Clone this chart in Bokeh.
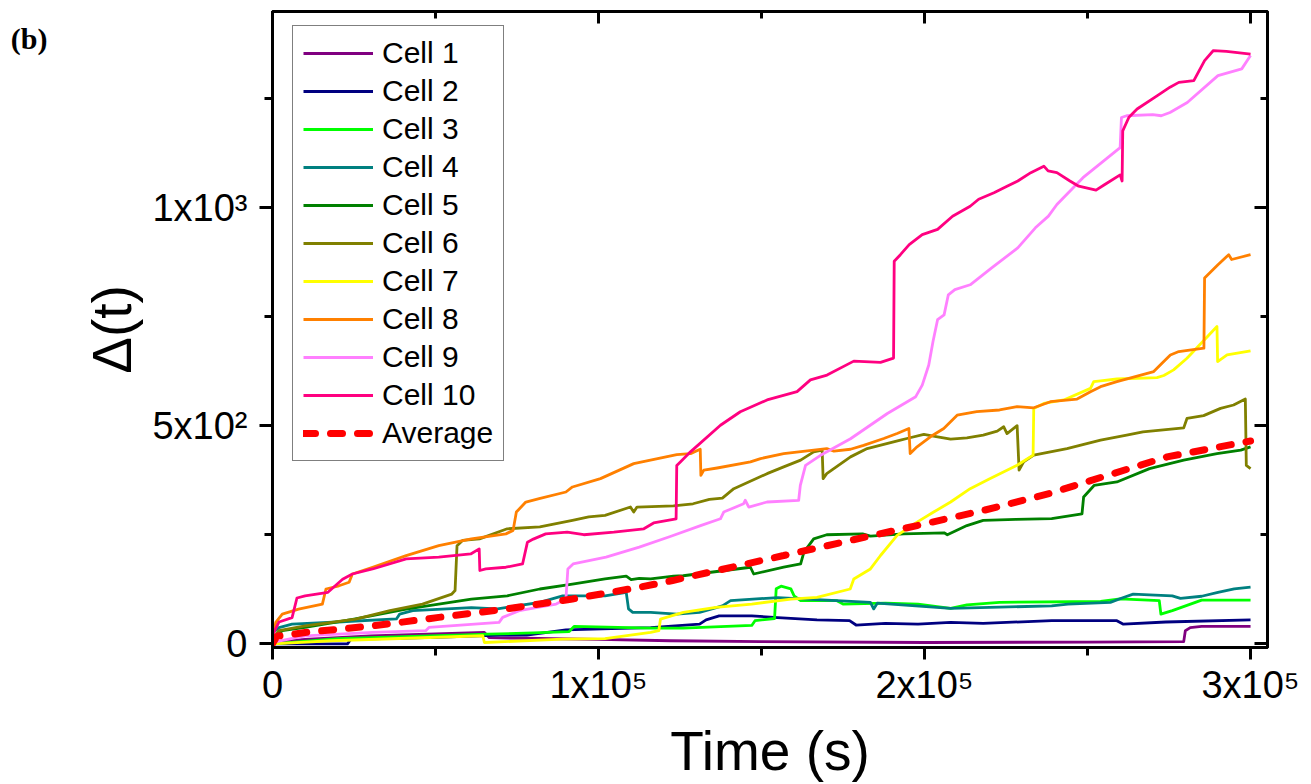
from bokeh.plotting import figure
from bokeh.models import (LinearAxis, SingleIntervalTicker, FixedTicker, Legend,
                          LegendItem, Range1d)
from bokeh.embed import file_html
from bokeh.resources import INLINE

# ---------------- data (time in seconds, Delta(t)) ----------------
cell1_t = [0, 10000, 30000, 65000, 66500, 100000, 122000, 150000, 200000, 250000,
           279500, 280000, 281500, 285000, 300000]
cell1_y = [3, 10, 18, 26, 14, 10, 7, 5, 3, 4, 5, 30, 37, 40, 40]

cell2_t = [0, 8000, 23000, 24000, 50000, 70000, 78000, 90000, 104000, 116000, 131000,
           133000, 137000, 147000, 155000, 167000, 177000, 179000, 188000, 198000,
           208000, 218000, 239000, 259000, 261000, 274000, 300000]
cell2_y = [0, 0, 0, 10, 15, 20, 20, 32, 35, 37, 45, 55, 64, 64, 60, 55, 53, 43, 47,
           45, 49, 47, 53, 53, 45, 50, 55]

cell3_t = [0, 20000, 66000, 80000, 91000, 92500, 116000, 126000, 147000, 148000,
           154000, 154500, 156000, 159000, 160000, 162000, 173000, 175000, 188000,
           198000, 208000, 213000, 223000, 254000, 260000, 272000, 272500, 276000,
           285000, 300000]
cell3_y = [0, 12, 22, 25, 28, 40, 36, 36, 42, 53, 58, 126, 132, 126, 110, 99, 99, 91,
           93, 91, 81, 89, 95, 97, 103, 99, 68, 76, 100, 100]

cell4_t = [0, 2000, 6000, 20000, 38000, 39000, 43000, 61000, 69000, 82000, 89000,
           102000, 108500, 109200, 110500, 116000, 124000, 131000, 138000, 140500,
           155000, 173000, 183400, 184400, 185500, 208000, 223000, 239000, 244000,
           257000, 261000, 264000, 269000, 276000, 278500, 285000, 290000, 295000,
           300000]
cell4_y = [25, 37, 45, 50, 57, 68, 76, 83, 80, 95, 110, 110, 118, 80, 72, 72, 68, 72,
           87, 99, 106, 99, 95, 80, 93, 81, 84, 87, 91, 95, 106, 114, 112, 110, 104,
           109, 118, 126, 130]

cell5_t = [0, 3000, 10000, 25000, 41000, 51000, 61000, 72000, 82000, 92000, 102000,
           108500, 110000, 112500, 116000, 123000, 126000, 146600, 147600, 156800,
           162000, 163000, 166000, 170000, 181000, 183400, 193600, 206000, 207000,
           213000, 218000, 228000, 239000, 248300, 248800, 252000, 259000, 269000,
           279500, 289700, 297000, 300000]
cell5_y = [10, 30, 37.5, 56.6, 79.6, 91, 102.6, 110, 125.6, 137, 148.6, 155, 147, 150,
           149, 155, 156, 175.5, 160, 175.5, 183, 210, 240.6, 250, 252, 246.8, 252,
           254.4, 250, 271, 283, 285, 287, 298, 336.5, 363, 371, 401.6, 421, 436, 444,
           451.5]

cell6_t = [0, 2000, 10000, 25500, 36000, 46000, 55000, 56000, 56600, 58300, 63500,
           72000, 82000, 92000, 97000, 102000, 109800, 110800, 111800, 123000, 129000,
           134000, 138000, 141500, 151700, 156800, 162000, 166000, 168600, 168900,
           170000, 177300, 182400, 192600, 194600, 199800, 204000, 208000, 213000,
           218000, 222300, 224300, 225300, 228400, 229000, 230400, 233500, 243700,
           254000, 262000, 267000, 279500, 280500, 285600, 290800, 294800, 298400,
           298700, 300000]
cell6_y = [10, 30, 41, 56.6, 76, 91, 114, 122, 225, 237, 240.6, 263.6, 268, 283, 291,
           294.4, 313.5, 302, 313.5, 316, 321, 331, 334, 355.6, 390, 405.5, 421, 440,
           444, 378.6, 390, 428.5, 447.6, 467, 470.6, 480, 474.5, 469, 472, 478.4,
           487.6, 497.5, 482, 500, 398, 417, 432.4, 447.6, 467, 478.4, 486, 495,
           516.6, 523, 539.6, 547.4, 561, 409, 401.6]

cell7_t = [0, 18000, 64500, 65000, 89000, 102000, 116000, 118500, 119000, 126000,
           136000, 147000, 159000, 167000, 177200, 178300, 183400, 186500, 191600,
           197700, 202800, 208000, 214000, 220000, 228400, 233300, 233500, 236600,
           242700, 250900, 251900, 254000, 259000, 271300, 273400, 276400, 280500,
           289700, 289900, 292800, 300000]
cell7_y = [0, 7, 18.4, 3, 10.6, 12, 26, 30, 56.6, 72, 83.5, 91, 102.6, 106.5, 125.6,
           148.6, 171.6, 202.4, 248.4, 279, 302, 325, 355.6, 378.6, 409.4, 432.4,
           539.6, 551, 559, 585.6, 601, 602.6, 607, 610, 615, 628, 654.6, 727.5, 647,
           662.4, 671.6]

cell8_t = [0, 1000, 3000, 8000, 15300, 16400, 20400, 23500, 24500, 30700, 41000,
           51000, 61000, 71600, 73800, 74800, 77700, 81800, 90000, 92000, 100600,
           110800, 124000, 128200, 131200, 131400, 132300, 136400, 146600, 149700,
           156800, 170000, 172200, 177300, 181300, 187500, 191600, 195200, 195600,
           197700, 201800, 205900, 210000, 216000, 223000, 228400, 233500, 238600,
           246800, 250900, 254000, 259000, 270300, 272300, 275400, 278000, 285700,
           285900, 290000, 293300, 294200, 300000]
cell8_y = [10.6, 49, 68, 79.6, 91, 125.6, 133, 141, 160, 175.5, 202, 225, 240.6, 252,
           260, 302, 325, 332.6, 348, 359.5, 378.6, 413, 433.8, 436, 446, 386, 398,
           403, 417, 424.6, 436, 447.6, 441.6, 446, 455, 470.6, 482, 493.6, 436,
           451.5, 474.5, 493.6, 524, 532, 536, 543.5, 541, 555, 561, 578, 589.5, 601,
           624, 639, 662, 670, 677.6, 838.6, 869, 892, 881, 892]

cell9_t = [0, 10000, 30700, 47000, 48000, 69500, 70600, 75700, 87000, 90000, 90600,
           92200, 102300, 112500, 122000, 131300, 137400, 138400, 144500, 145000,
           146100, 151700, 161400, 161900, 163500, 168100, 177300, 188600, 197300,
           199300, 201300, 202600, 204000, 206000, 207300, 209300, 214000, 220600,
           228600, 234000, 238000, 240600, 248600, 260000, 260400, 262000, 270000,
           272600, 275300, 280600, 290000, 297300, 300000]
cell9_y = [3, 18, 26, 30, 37.5, 49, 60.5, 76, 91, 102.6, 171.6, 183, 198.5, 221.5,
           246, 271, 286.6, 302, 321, 329, 313.5, 325, 329, 363, 409, 432, 470, 528,
           566.5, 593, 639, 693, 743, 754, 800, 812, 823, 861.6, 907.6, 953.6, 980.5,
           1007, 1068.6, 1137.6, 1206.6, 1210.5, 1213, 1210.5, 1218, 1241, 1302.5,
           1318, 1348.5]

cell10_t = [0, 2000, 6000, 7500, 10000, 17000, 21500, 24500, 30700, 41000, 51000,
            60800, 63400, 63600, 65400, 71600, 76700, 78200, 80000, 83800, 90400,
            95500, 104700, 113900, 116900, 123800, 124000, 125100, 128200, 137400,
            143500, 151700, 160900, 165000, 170100, 178300, 186500, 190500, 190700,
            192600, 195300, 199300, 204000, 208600, 214000, 216600, 221300, 225300,
            228600, 232600, 236600, 237900, 240600, 244600, 247300, 252600, 255300,
            260000, 260600, 260800, 262700, 265200, 271300, 275300, 278000, 282600,
            285900, 288600, 292600, 300000]
cell10_y = [20, 50, 60, 105, 110, 118, 148, 160, 171.5, 194.6, 198.5, 206, 217.6, 168,
            171.6, 175.5, 183, 233, 240, 252, 256, 250, 256, 263.6, 277, 286.6, 409,
            417, 440, 501, 532, 559, 578, 605, 616, 648, 645, 655, 877, 892, 915, 938,
            950, 980, 1003, 1019, 1034, 1049, 1061, 1080, 1095, 1084, 1080, 1061, 1049,
            1040, 1053, 1075, 1061, 1176, 1207, 1226, 1256, 1276, 1287, 1291, 1337,
            1360, 1358, 1352]

avg_t = [0, 1400, 3000, 10000, 30700, 51000, 71600, 92000, 112500, 122700, 136400,
         156800, 177300, 197700, 218200, 238600, 250000, 274400, 300000]
avg_y = [0, 18, 18.4, 26, 41, 60.5, 79.6, 102.6, 129.5, 145, 168, 202.4, 237, 271,
         306, 345, 372, 428.5, 465]

series_names = ["Cell 1", "Cell 2", "Cell 3", "Cell 4", "Cell 5", "Cell 6", "Cell 7",
                "Cell 8", "Cell 9", "Cell 10"]
series_colors = ["#800080", "#000080", "#00FF00", "#008080", "#008000", "#808000",
                 "#FFFF00", "#FF8000", "#FF80FF", "#FF0080"]
series_t = [cell1_t, cell2_t, cell3_t, cell4_t, cell5_t, cell6_t, cell7_t, cell8_t,
            cell9_t, cell10_t]
series_y = [cell1_y, cell2_y, cell3_y, cell4_y, cell5_y, cell6_y, cell7_y, cell8_y,
            cell9_y, cell10_y]

x_tick_labels = {0: "0", 100000: "1x10\u2075", 200000: "2x10\u2075", 300000: "3x10\u2075"}
y_tick_labels = {0: "0", 500: "5x10\u00b2", 1000: "1x10\u00b3"}
panel_tag = "(b)"
panel_tag_y = 1388   # vertical position of the panel tag, in y-axis units

FONT = "Liberation Sans"
X0, X1 = 0, 305200
Y0, Y1 = -8.5, 1449.5

p = figure(width=1305, height=784, output_backend="svg", toolbar_location=None,
           x_range=Range1d(X0, X1), y_range=Range1d(Y0, Y1),
           min_border_left=272, min_border_right=38, min_border_top=11,
           min_border_bottom=130)
p.xgrid.visible = False
p.ygrid.visible = False
p.outline_line_color = "black"
p.outline_line_width = 3
p.background_fill_color = "white"
p.border_fill_color = "white"


def style_axis(ax, ticker, tick_out, minor_out, tick_in, minor_in):
    ax.ticker = ticker
    ax.axis_line_width = 3
    ax.axis_line_color = "black"
    ax.major_tick_line_width = 3
    ax.minor_tick_line_width = 3
    ax.major_tick_line_color = "black"
    ax.minor_tick_line_color = "black"
    ax.major_tick_out = tick_out
    ax.minor_tick_out = minor_out
    ax.major_tick_in = tick_in
    ax.minor_tick_in = minor_in


xa = p.xaxis[0]
style_axis(xa, SingleIntervalTicker(interval=100000, num_minor_ticks=2), 12, 8, 0, 0)
xa.major_label_overrides = x_tick_labels
xa.major_label_text_font = FONT
xa.major_label_text_font_size = "38px"
xa.major_label_text_color = "black"
xa.major_label_standoff = 4
xa.axis_label = "Time (s)"
xa.axis_label_text_font = FONT
xa.axis_label_text_font_size = "55px"
xa.axis_label_text_font_style = "normal"
xa.axis_label_text_color = "black"
xa.axis_label_standoff = 11

ya = p.yaxis[0]
style_axis(ya, SingleIntervalTicker(interval=500, num_minor_ticks=2), 13, 8, 0, 0)
ya.major_label_overrides = y_tick_labels
ya.major_label_text_font = FONT
ya.major_label_text_font_size = "38px"
ya.major_label_text_color = "black"
ya.major_label_standoff = 12
ya.major_label_orientation = "horizontal"
ya.axis_label = "\u0394(t)"
ya.axis_label_text_font = FONT
ya.axis_label_text_font_size = "55px"
ya.axis_label_text_font_style = "normal"
ya.axis_label_text_color = "black"
ya.axis_label_standoff = 6

# outer left axis that only carries the panel tag "(b)"
tag_axis = LinearAxis(ticker=FixedTicker(ticks=[panel_tag_y], minor_ticks=[]))
tag_axis.major_label_overrides = {panel_tag_y: panel_tag}
tag_axis.axis_line_color = None
tag_axis.major_tick_line_color = None
tag_axis.minor_tick_line_color = None
tag_axis.major_tick_out = 0
tag_axis.major_tick_in = 0
tag_axis.minor_tick_out = 0
tag_axis.major_label_standoff = 31
tag_axis.major_label_orientation = "horizontal"
tag_axis.major_label_text_font = "Liberation Serif"
tag_axis.major_label_text_font_style = "bold"
tag_axis.major_label_text_font_size = "30px"
tag_axis.major_label_text_color = "black"
p.add_layout(tag_axis, "left")

top = LinearAxis()
style_axis(top, SingleIntervalTicker(interval=100000, num_minor_ticks=2), 0, 0, 12, 7)
top.major_label_text_font_size = "0px"
top.major_label_text_color = None
top.major_label_standoff = 0
p.add_layout(top, "above")

right = LinearAxis()
style_axis(right, SingleIntervalTicker(interval=500, num_minor_ticks=2), 0, 0, 13, 7)
right.major_label_text_font_size = "0px"
right.major_label_text_color = None
right.major_label_standoff = 0
p.add_layout(right, "right")

items = []
for name, color, t, y in zip(series_names, series_colors, series_t, series_y):
    r = p.line(t, y, line_color=color, line_width=2.8, line_join="round")
    items.append(LegendItem(label=name, renderers=[r]))
ravg = p.line(avg_t, avg_y, line_color="#FF0000", line_width=7, line_dash="12 15",
              line_cap="round")
items.append(LegendItem(label="Average", renderers=[ravg]))

legend = Legend(items=items, location=(20, 186), orientation="vertical",
                label_text_font=FONT, label_text_font_size="30px",
                label_text_color="black",
                glyph_width=70, glyph_height=34, label_height=34, label_standoff=9,
                spacing=4, padding=10, margin=0,
                border_line_color="black", border_line_width=1,
                background_fill_color="white", background_fill_alpha=1.0)
p.add_layout(legend)

open("out.html", "w").write(file_html(p, INLINE))
